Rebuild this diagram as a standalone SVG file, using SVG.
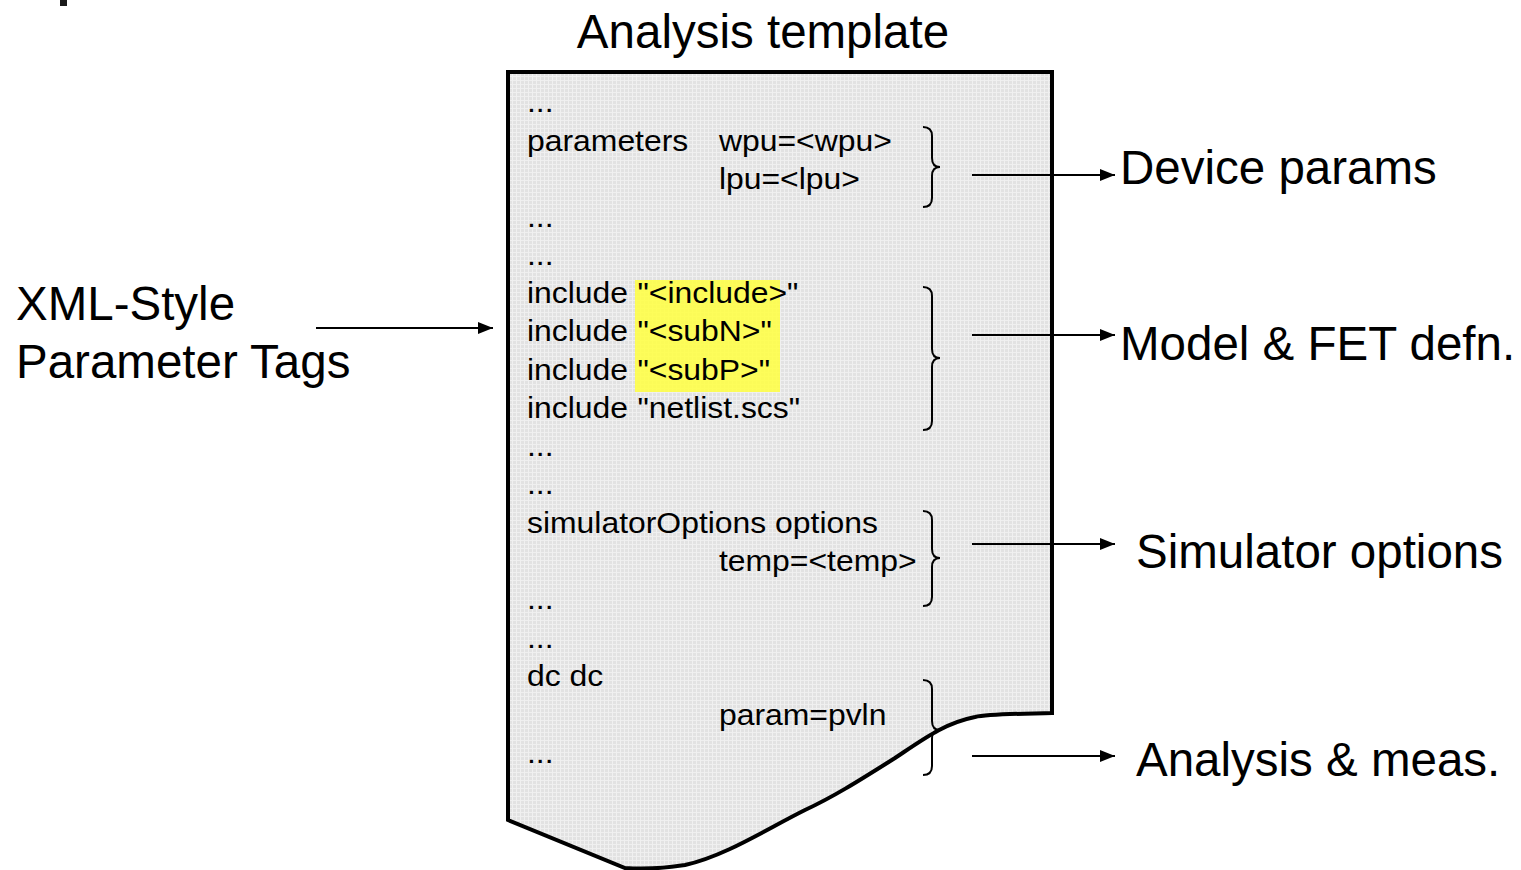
<svg xmlns="http://www.w3.org/2000/svg" width="1521" height="870" viewBox="0 0 1521 870">
<style>
.code{font-family:"Liberation Sans",Arial,sans-serif;font-size:29px;fill:#000}
.lbl{font-family:"Liberation Sans",Arial,sans-serif;font-size:47.5px;fill:#000}
.brace{fill:none;stroke:#000;stroke-width:2}
.conn{fill:none;stroke:#000;stroke-width:2;marker-end:url(#ah)}
</style>
<defs>
<pattern id="grid" width="4" height="4" patternUnits="userSpaceOnUse">
<rect width="4" height="4" fill="#e2e2e2"/>
<rect width="4" height="1" fill="#efefef"/>
<rect width="1" height="4" fill="#f0f0f0"/>
</pattern>
<marker id="ah" markerWidth="16" markerHeight="14" refX="15" refY="7" orient="auto" markerUnits="userSpaceOnUse">
<path d="M0,1 L15,7 L0,13 Z" fill="#000"/>
</marker>
</defs>
<rect width="1521" height="870" fill="#fff"/>
<rect x="60" y="0" width="7" height="6" fill="#1a1a1a"/>
<g id="title"><text class="lbl" x="763" y="48" text-anchor="middle">Analysis template</text></g>
<g id="document">
<path d="M508,72 H1052 V713 C1010,714 988,714 975,717 C945,723 925,738 895,758 C860,780 835,796 805,810 C765,830 725,856 685,865 C660,869 640,869 625,868 L508,820 Z" fill="url(#grid)" stroke="#000" stroke-width="4" stroke-linejoin="miter"/>
<rect x="635" y="280" width="145" height="112" fill="#ffff40" opacity="0.85"/>
<g transform="scale(1.1,1)">
<text class="code" x="479.1" y="112">...</text>
<text class="code" x="479.1" y="151">parameters</text>
<text class="code" x="653.6" y="151">wpu=&lt;wpu&gt;</text>
<text class="code" x="653.6" y="189">lpu=&lt;lpu&gt;</text>
<text class="code" x="479.1" y="227">...</text>
<text class="code" x="479.1" y="265">...</text>
<text class="code" x="479.1" y="303">include<tspan x="579.5">"&lt;include&gt;"</tspan></text>
<text class="code" x="479.1" y="341">include<tspan x="579.5">"&lt;subN&gt;"</tspan></text>
<text class="code" x="479.1" y="380">include<tspan x="579.5">"&lt;subP&gt;"</tspan></text>
<text class="code" x="479.1" y="418">include<tspan x="579.5">"netlist.scs"</tspan></text>
<text class="code" x="479.1" y="456">...</text>
<text class="code" x="479.1" y="494">...</text>
<text class="code" x="479.1" y="533">simulatorOptions options</text>
<text class="code" x="653.6" y="571">temp=&lt;temp&gt;</text>
<text class="code" x="479.1" y="609">...</text>
<text class="code" x="479.1" y="648">...</text>
<text class="code" x="479.1" y="686">dc dc</text>
<text class="code" x="653.6" y="725">param=pvln</text>
<text class="code" x="479.1" y="763">...</text>
</g>
<path class="brace" d="M923,127 Q932,127 932,136 V158 Q932,167 940,167 Q932,167 932,176 V198 Q932,207 923,207"/>
<path class="brace" d="M923,287 Q932,287 932,296 V349 Q932,358 940,358 Q932,358 932,367 V421 Q932,430 923,430"/>
<path class="brace" d="M923,511 Q932,511 932,520 V549 Q932,558 940,558 Q932,558 932,567 V597 Q932,606 923,606"/>
<path class="brace" d="M923,680 Q932,680 932,689 V721 Q932,730 940,730 Q932,730 932,739 V766 Q932,775 923,775"/>
</g>
<g id="xml-label">
<text class="lbl" x="16" y="320">XML-Style</text>
<text class="lbl" x="16" y="378">Parameter Tags</text>
</g>
<g id="device-params"><text class="lbl" x="1120" y="184">Device params</text></g>
<g id="model-fet"><text class="lbl" x="1120" y="360">Model &amp; FET defn.</text></g>
<g id="sim-options"><text class="lbl" x="1136" y="568">Simulator options</text></g>
<g id="analysis-meas"><text class="lbl" x="1136" y="776">Analysis &amp; meas.</text></g>
<g id="connectors">
<line class="conn" x1="316" y1="328" x2="493" y2="328"/>
<line class="conn" x1="972" y1="175" x2="1115" y2="175"/>
<line class="conn" x1="972" y1="335" x2="1115" y2="335"/>
<line class="conn" x1="972" y1="544" x2="1115" y2="544"/>
<line class="conn" x1="972" y1="756" x2="1115" y2="756"/>
</g>
</svg>
